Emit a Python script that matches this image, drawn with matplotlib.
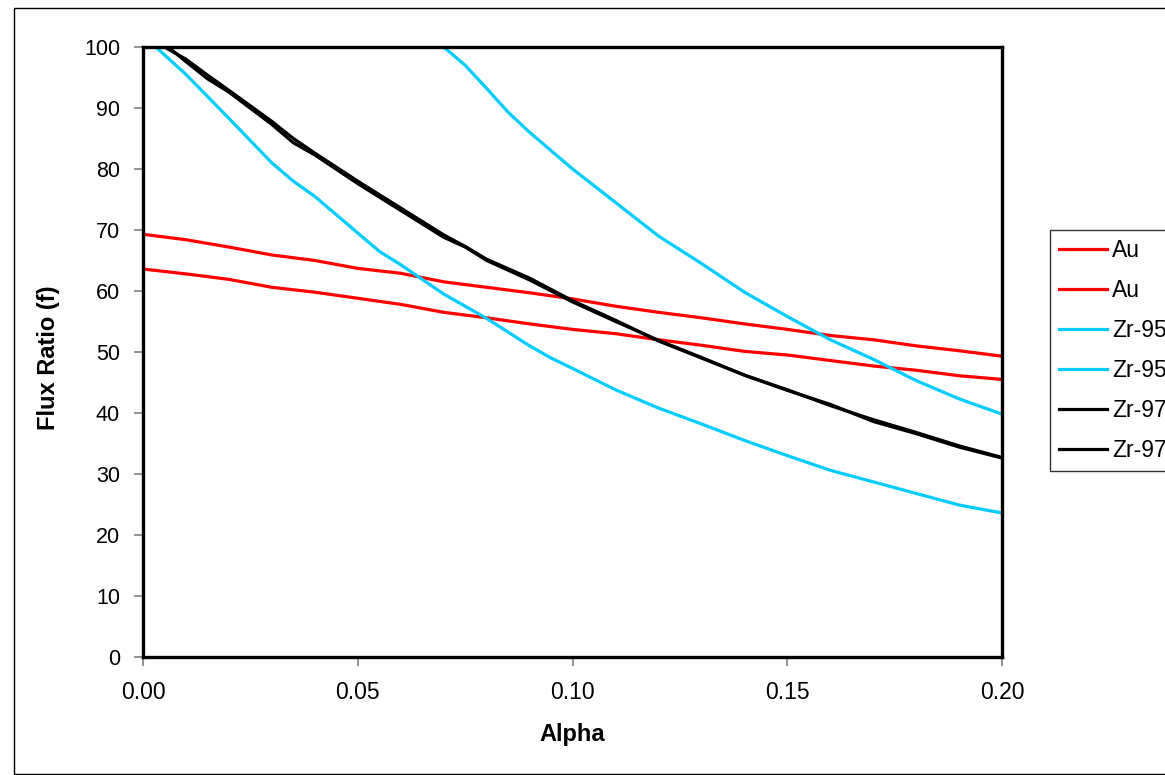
import matplotlib.pyplot as plt
import matplotlib.patches as patches

plt.rcParams['font.family'] = ['Liberation Sans', 'DejaVu Sans']

# Data
alpha = [0.00, 0.01, 0.02, 0.03, 0.04, 0.05, 0.06, 0.07, 0.08, 0.09, 0.10,
         0.11, 0.12, 0.13, 0.14, 0.15, 0.16, 0.17, 0.18, 0.19, 0.20]

au_1 = [69.3, 68.4, 67.2, 65.9, 65.0, 63.7, 62.9, 61.5, 60.6, 59.7, 58.7,
        57.5, 56.5, 55.6, 54.6, 53.7, 52.7, 52.0, 51.0, 50.2, 49.3]
au_2 = [63.6, 62.8, 61.9, 60.6, 59.8, 58.8, 57.8, 56.5, 55.6, 54.6, 53.7,
        53.0, 52.0, 51.1, 50.1, 49.5, 48.6, 47.7, 47.0, 46.1, 45.5]

alpha_zr95a = [0.003, 0.01, 0.02, 0.03, 0.035, 0.04, 0.05, 0.055, 0.06, 0.07,
               0.08, 0.09, 0.095, 0.10, 0.11, 0.12, 0.13, 0.14, 0.15, 0.16,
               0.17, 0.18, 0.19, 0.20]
zr95_a = [100.0, 95.5, 88.3, 81.0, 78.0, 75.5, 69.5, 66.5, 64.3, 59.5,
          55.5, 51.0, 49.0, 47.3, 43.8, 40.8, 38.2, 35.5, 33.0, 30.6,
          28.7, 26.8, 24.9, 23.6]

alpha_zr95b = [0.070, 0.075, 0.08, 0.085, 0.09, 0.10, 0.11, 0.12, 0.13, 0.14,
               0.15, 0.16, 0.17, 0.18, 0.19, 0.20]
zr95_b = [100.0, 97.0, 93.2, 89.3, 86.0, 80.0, 74.5, 69.0, 64.5, 59.8,
          55.8, 52.0, 48.8, 45.3, 42.3, 39.8]

alpha_zr97 = [0.005, 0.01, 0.015, 0.02, 0.03, 0.035, 0.04, 0.05, 0.06, 0.07,
              0.075, 0.08, 0.09, 0.10, 0.11, 0.12, 0.13, 0.14, 0.15, 0.16,
              0.17, 0.18, 0.19, 0.20]
zr97_a = [100.0, 98.0, 95.4, 92.9, 87.8, 85.0, 82.6, 78.0, 73.6, 69.2,
          67.3, 65.2, 62.1, 58.4, 55.2, 51.8, 49.0, 46.2, 43.8, 41.2,
          38.9, 36.8, 34.6, 32.7]
zr97_b = [100.5, 97.6, 94.8, 92.6, 87.3, 84.3, 82.3, 77.6, 73.2, 68.8,
          67.2, 65.0, 61.8, 58.2, 55.0, 51.9, 49.1, 46.2, 43.7, 41.4,
          38.6, 36.6, 34.4, 32.6]

fig = plt.figure(figsize=(11.65, 7.75), dpi=100)
ax = fig.add_axes([0.1227, 0.1523, 0.8603 - 0.1227, 0.9394 - 0.1523])

lw = 2.3
ax.plot(alpha, au_1, color='#ff0000', lw=lw, label='Au')
ax.plot(alpha, au_2, color='#ff0000', lw=lw, label='Au')
ax.plot(alpha_zr95a, zr95_a, color='#00ccff', lw=lw, label='Zr-95')
ax.plot(alpha_zr95b, zr95_b, color='#00ccff', lw=lw, label='Zr-95')
ax.plot(alpha_zr97, zr97_a, color='black', lw=lw, label='Zr-97')
ax.plot(alpha_zr97, zr97_b, color='black', lw=lw, label='Zr-97')

ax.set_xlim(0, 0.2)
ax.set_ylim(0, 100)
ax.set_xticks([0.0, 0.05, 0.10, 0.15, 0.20])
ax.set_xticklabels(['0.00', '0.05', '0.10', '0.15', '0.20'])
ax.set_yticks(range(0, 101, 10))
ax.tick_params(axis='both', direction='out', length=6.5, width=1.2,
               color='#808080')
ax.tick_params(axis='y', pad=10, labelsize=15.5)
ax.tick_params(axis='x', pad=11, labelsize=16.5)
for s in ax.spines.values():
    s.set_linewidth(2.4)
    s.set_color('black')

ax.set_xlabel('Alpha', fontsize=17, fontweight='bold', va='center')
ax.set_ylabel('Flux Ratio (f)', fontsize=17, fontweight='bold', va='center')
ax.xaxis.set_label_coords(0.5, (657 - 735) / 610)
ax.yaxis.set_label_coords((49 - 143) / 859, 0.49)

leg = fig.legend(loc='upper left', bbox_to_anchor=(1050 / 1165, 1 - 230 / 775),
                 frameon=True, fancybox=False, fontsize=16.5, handlelength=2.1,
                 handletextpad=0.22, labelspacing=0.74, borderpad=0.4,
                 borderaxespad=0)
leg.get_frame().set_edgecolor('black')
leg.get_frame().set_linewidth(1.0)

# outer chart border
fig.patches.append(patches.Rectangle((14 / 1165, 0.0015), 1.2, 1 - 8 / 775 - 0.0015,
                                     transform=fig.transFigure, fill=False,
                                     edgecolor='black', lw=1.0))

fig.savefig('out.png', dpi=100)
